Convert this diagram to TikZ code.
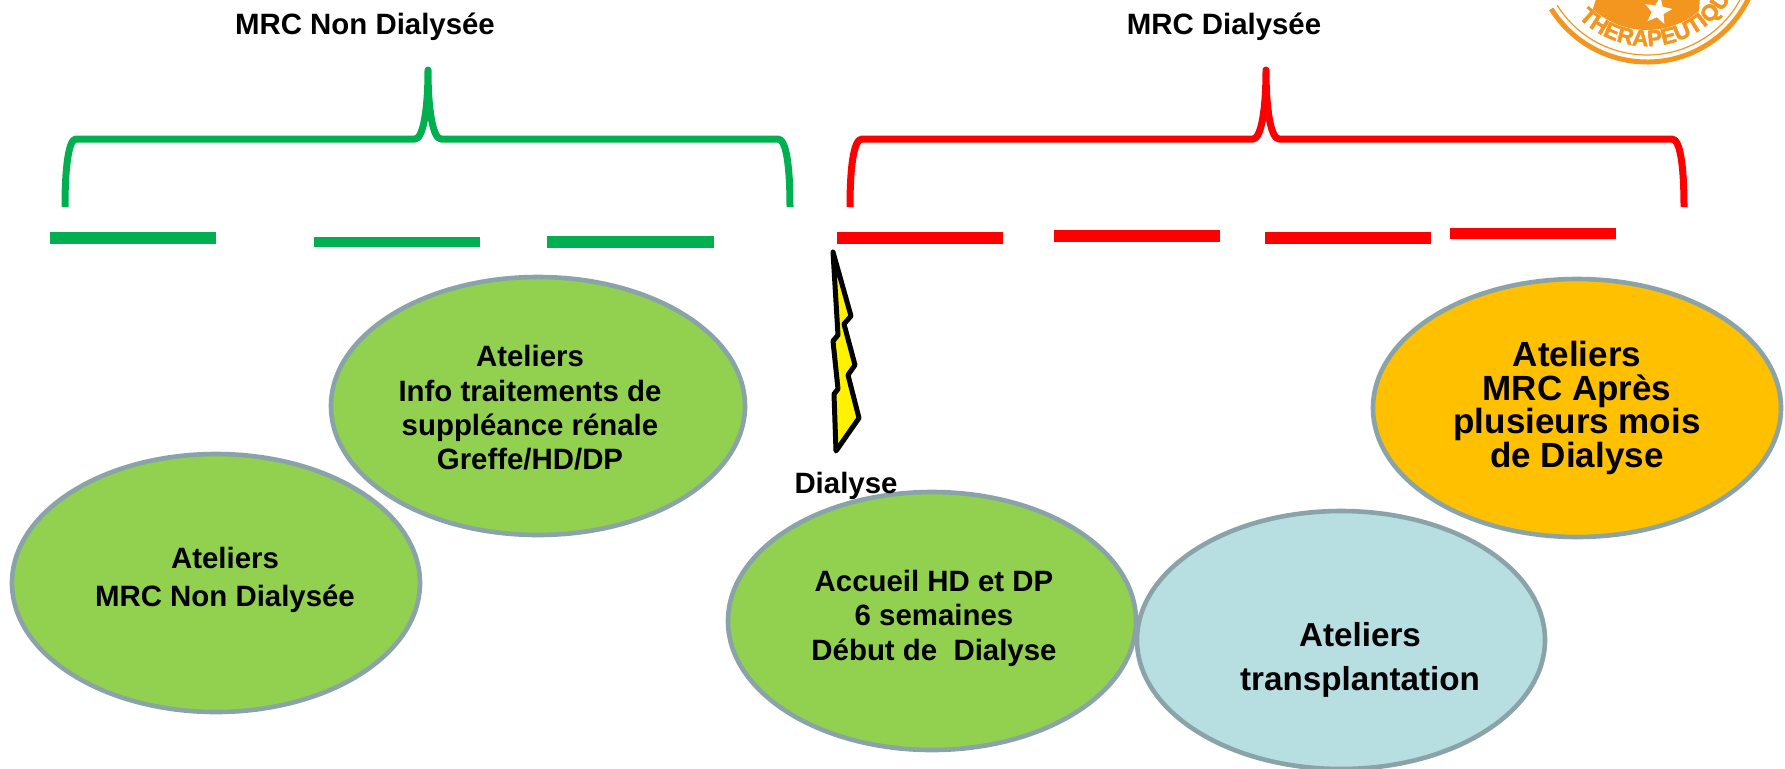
\documentclass[tikz,border=0pt]{standalone}
\usepackage{fontspec}
\setmainfont{Liberation Sans}
\newfontfamily\logofont[BoldFeatures={FakeBold=2.5}]{Liberation Sans}
\usetikzlibrary{shapes.geometric,decorations.text}
\definecolor{vertbar}{HTML}{00B050}
\definecolor{vertbulle}{HTML}{92D050}
\definecolor{bleubulle}{HTML}{B7DEE1}
\definecolor{orbulle}{HTML}{FFC000}
\definecolor{grisbord}{HTML}{8AA3A8}
\definecolor{orangelogo}{HTML}{F39620}
\begin{document}
\begin{tikzpicture}[x=0.5pt,y=-0.5pt,line join=round,
	bulle/.style={ellipse,draw=grisbord,line width=2.3pt,minimum width=204pt,minimum height=129pt,inner sep=0pt,outer sep=0pt},
	titre/.style={font=\bfseries\fontsize{14.7}{17}\selectfont,align=center},
	texte/.style={font=\bfseries\fontsize{14.7}{17.2}\selectfont,align=center},
	grand/.style={font=\bfseries\fontsize{17.5}{16.7}\selectfont,align=center},
	accolade/.style={line width=3.5pt},
	barre/.style={line width=#1}]
	\useasboundingbox (0,0) rectangle (1785,768);
	\clip (0,0) rectangle (1785,768);
	% logo
	\begin{scope}[shift={(1647,-51)},x=0.5pt,y=0.5pt,orangelogo]
		\draw[line width=2.5pt] (212:113) arc (212:335:113);
		\draw[line width=0.6pt] (212:106) arc (212:335:106);
		\fill (228:81) arc (228:310:81) -- (60,60) -- (-17,60) -- cycle;
		\node[star,star points=5,star point ratio=2.3,fill=white,minimum size=14.5pt,inner sep=0pt,rotate=-10] (etoile) at (11,-62) {};
		\path[decorate,decoration={text along path,text align=left,
			text={|\logofont\bfseries\fontsize{11.2}{13}\selectfont\color{orangelogo}|THERAPEUTIQUE}}]
			(225:97) arc (225:345:97);
	\end{scope}
	% titres
	\node[titre] (nondia) at (365,27) {MRC Non Dialysée};
	\node[titre] (dia) at (1224,27) {MRC Dialysée};
	% accolades
	\draw[accolade,vertbar] (65,207) .. controls (65,165) and (69,139) .. (76,139) -- (415,139)
		.. controls (423,139) and (428,110) .. (428,70) .. controls (428,110) and (433,139) .. (441,139)
		-- (778,139) .. controls (786,139) and (790,165) .. (790,207);
	\draw[accolade,red] (850,207) .. controls (850,165) and (854,139) .. (862,139) -- (1253,139)
		.. controls (1261,139) and (1266,110) .. (1266,70) .. controls (1266,110) and (1271,139) .. (1279,139)
		-- (1672,139) .. controls (1680,139) and (1684,165) .. (1684,207);
	% barres
	\foreach \a/\b/\c/\e in {50/216/238/6pt,314/480/242/5pt,547/714/242/6pt}
		\draw[barre=\e,vertbar] (\a,\c) -- (\b,\c);
	\foreach \a/\b/\c/\e in {837/1003/238/6pt,1054/1220/236/6pt,1265/1431/238/6pt,1450/1616/233/5.5pt}
		\draw[barre=\e,red] (\a,\c) -- (\b,\c);
	% eclair
	\draw[line width=2.5pt,fill=yellow] (833,252) -- (851,316) -- (844,324) -- (855,365) -- (848,375)
		-- (859,418) -- (836,451) -- (834,394) -- (838,389) -- (833,341) -- (838,335) -- cycle;
	% bulles
	\node[bulle,fill=vertbulle] (bulleA) at (216,583) {};
	\node[bulle,fill=vertbulle,minimum width=207pt] (bulleB) at (538,406) {};
	\node[bulle,fill=vertbulle] (bulleC) at (932,621) {};
	\node[bulle,fill=bleubulle] (bulleD) at (1341,640) {};
	\node[bulle,fill=orbulle] (bulleE) at (1577,408) {};
	% textes
	\node[titre] (eclairtxt) at (846,486) {Dialyse};
	\node[texte,font=\bfseries\fontsize{14.7}{18.8}\selectfont] (txtA) at (225,580) {Ateliers\\MRC Non Dialysée};
	\node[texte] (txtB) at (530,408) {Ateliers\\Info traitements de\\suppléance rénale\\Greffe/HD/DP};
	\node[texte] (txtC) at (934,618) {Accueil HD et DP\\6 semaines\\Début de~ Dialyse};
	\node[grand,font=\bfseries\fontsize{16.6}{22}\selectfont] (txtD) at (1360,660) {Ateliers\\transplantation};
	\node[grand] (txtE) at (1577,408) {Ateliers\\MRC Après\\plusieurs mois\\de Dialyse};
\end{tikzpicture}
\end{document}
